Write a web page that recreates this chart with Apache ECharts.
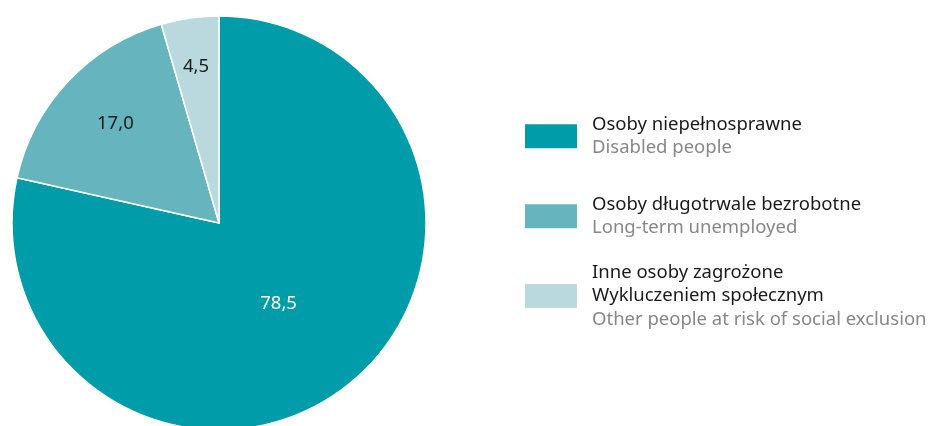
<!DOCTYPE html>
<html>
<head>
<meta charset="utf-8">
<script src="https://cdn.jsdelivr.net/npm/echarts@6/dist/echarts.min.js"></script>
<style>html,body{margin:0;padding:0;background:#fff}#c{width:933px;height:426px}</style>
</head>
<body>
<div id="c"></div>
<script>
const categoriesPL = ['Osoby niepełnosprawne', 'Osoby długotrwale bezrobotne', 'Inne osoby zagrożone\nWykluczeniem społecznym'];
const categoriesEN = ['Disabled people', 'Long-term unemployed', 'Other people at risk of social exclusion'];
const values = [78.5, 17.0, 4.5];
const colors = ['#009ca9', '#66b4bd', '#bad9de'];
const labelColors = ['#ffffff', '#1a1a1a', '#1a1a1a'];
const labelOffsets = [[-7, -2], [-26, -26], [-8, -51]];

const FONT = '"Noto Sans", sans-serif';
const names = categoriesPL.map(c => c);
const enByName = {};
names.forEach((n, i) => enByName[n] = categoriesEN[i]);

const data = values.map((v, i) => ({
  name: names[i],
  value: v,
  itemStyle: { color: colors[i] },
  label: { color: labelColors[i], offset: labelOffsets[i] }
}));

const legendTops = [115, 195, 263];
const legends = names.map((n, i) => ({
  data: [n],
  left: 523,
  top: legendTops[i],
  padding: 0,
  orient: 'vertical',
  icon: 'rect',
  itemWidth: 54,
  itemHeight: 26,
  selectedMode: false,
  formatter: name => {
    const pl = name.split('\n').map(s => '{t|' + s + '}').join('\n');
    return pl + '\n{s|' + enByName[name] + '}';
  },
  textStyle: {
    rich: {
      t: { fontFamily: FONT, fontSize: 18.5, color: '#1a1a1a', lineHeight: 23.5, padding: [0, 0, 0, 9] },
      s: { fontFamily: FONT, fontSize: 18.5, color: '#878787', lineHeight: 23.5, padding: [0, 0, 0, 9] }
    }
  }
}));

const chart = echarts.init(document.getElementById('c'), null, { renderer: 'canvas' });
chart.setOption({
  animation: false,
  legend: legends,
  series: [{
    type: 'pie',
    center: [219, 223],
    radius: [0, 207],
    startAngle: 90,
    clockwise: true,
    data: data,
    itemStyle: { borderColor: '#ffffff', borderWidth: 1.5 },
    label: {
      show: true,
      position: 'inside',
      fontFamily: FONT,
      fontSize: 18.5,
      formatter: p => p.value.toFixed(1).replace('.', ',')
    },
    labelLine: { show: false },
    emphasis: { disabled: true }
  }]
});
</script>
</body>
</html>
